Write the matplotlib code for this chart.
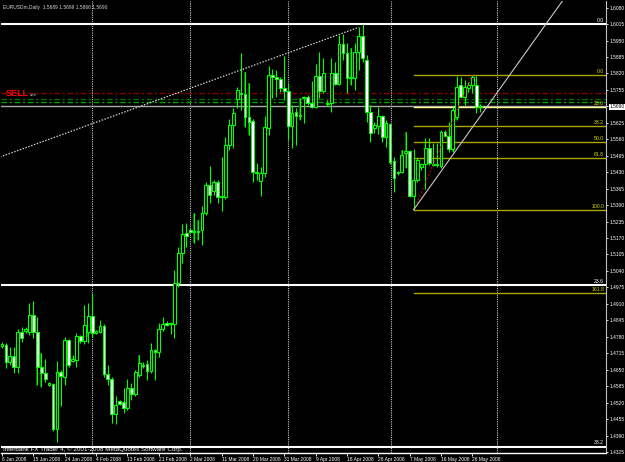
import numpy as np
import matplotlib.pyplot as plt

plt.rcParams['font.family'] = ['Liberation Sans', 'DejaVu Sans']

symbol_info = "EURUSDm,Daily  1.5689 1.5699 1.5666 1.5690"
copyright_text = "Interbank FX Trader 4, \u00a9 2001-2008 MetaQuotes Software Corp."

# daily EURUSD bars
opens = [1.4743, 1.4747, 1.4680, 1.4704, 1.4660, 1.4799, 1.4803, 1.4799, 1.4866, 1.4799,
         1.4660, 1.4637, 1.4589, 1.4593, 1.4415, 1.4641, 1.4621, 1.4767, 1.4684, 1.4688,
         1.4783, 1.4763, 1.4799, 1.4862, 1.4795, 1.4799, 1.4822, 1.4633, 1.4613, 1.4475,
         1.4526, 1.4522, 1.4498, 1.4577, 1.4554, 1.4629, 1.4664, 1.4672, 1.4645, 1.4728,
         1.4720, 1.4810, 1.4834, 1.4830, 1.4830, 1.4992, 1.5111, 1.5190, 1.5202, 1.5194,
         1.5194, 1.5202, 1.5269, 1.5379, 1.5356, 1.5391, 1.5332, 1.5332, 1.5537, 1.5616,
         1.5719, 1.5743, 1.5739, 1.5648, 1.5632, 1.5431, 1.5395, 1.5427, 1.5604, 1.5814,
         1.5806, 1.5798, 1.5762, 1.5751, 1.5612, 1.5668, 1.5656, 1.5723, 1.5727, 1.5703,
         1.5687, 1.5810, 1.5751, 1.5699, 1.5703, 1.5822, 1.5778, 1.5936, 1.5901, 1.5802,
         1.5802, 1.5905, 1.5968, 1.5873, 1.5668, 1.5604, 1.5612, 1.5652, 1.5569, 1.5620,
         1.5474, 1.5425, 1.5431, 1.5506, 1.5514, 1.5336, 1.5399, 1.5450, 1.5462, 1.5525,
         1.5462, 1.5458, 1.5454, 1.5589, 1.5573, 1.5521, 1.5648, 1.5774, 1.5727, 1.5762,
         1.5774, 1.5774, 1.5689]
highs = [1.4759, 1.4755, 1.4739, 1.4739, 1.4810, 1.4818, 1.4818, 1.4913, 1.4921, 1.4858,
         1.4716, 1.4692, 1.4601, 1.4597, 1.4684, 1.4649, 1.4779, 1.4771, 1.4708, 1.4795,
         1.4787, 1.4905, 1.4913, 1.4953, 1.4807, 1.4846, 1.4830, 1.4668, 1.4621, 1.4546,
         1.4530, 1.4577, 1.4613, 1.4597, 1.4649, 1.4708, 1.4680, 1.4688, 1.4755, 1.4732,
         1.4834, 1.4858, 1.4842, 1.4838, 1.5044, 1.5134, 1.5225, 1.5229, 1.5209, 1.5269,
         1.5241, 1.5296, 1.5391, 1.5454, 1.5399, 1.5399, 1.5490, 1.5569, 1.5640, 1.5683,
         1.5766, 1.5901, 1.5826, 1.5782, 1.5640, 1.5466, 1.5450, 1.5652, 1.5849, 1.5837,
         1.5834, 1.5806, 1.5889, 1.5782, 1.5695, 1.5683, 1.5723, 1.5731, 1.5735, 1.5790,
         1.5857, 1.5905, 1.5881, 1.5715, 1.5881, 1.5865, 1.5972, 1.5976, 1.5940, 1.5920,
         1.5940, 1.6003, 1.6015, 1.5893, 1.5695, 1.5628, 1.5687, 1.5656, 1.5636, 1.5624,
         1.5490, 1.5435, 1.5518, 1.5589, 1.5518, 1.5521, 1.5486, 1.5466, 1.5565, 1.5565,
         1.5545, 1.5545, 1.5597, 1.5597, 1.5628, 1.5687, 1.5810, 1.5806, 1.5794, 1.5786,
         1.5814, 1.5810, 1.5699]
lows = [1.4735, 1.4656, 1.4668, 1.4637, 1.4637, 1.4759, 1.4795, 1.4787, 1.4775, 1.4589,
        1.4581, 1.4601, 1.4585, 1.4408, 1.4364, 1.4506, 1.4589, 1.4660, 1.4680, 1.4660,
        1.4755, 1.4751, 1.4755, 1.4779, 1.4791, 1.4795, 1.4621, 1.4589, 1.4439, 1.4435,
        1.4510, 1.4479, 1.4490, 1.4530, 1.4546, 1.4621, 1.4656, 1.4609, 1.4637, 1.4609,
        1.4700, 1.4803, 1.4822, 1.4791, 1.4775, 1.4976, 1.5071, 1.5134, 1.5190, 1.5150,
        1.5162, 1.5142, 1.5261, 1.5308, 1.5340, 1.5308, 1.5277, 1.5324, 1.5518, 1.5525,
        1.5683, 1.5676, 1.5608, 1.5577, 1.5391, 1.5399, 1.5336, 1.5411, 1.5577, 1.5723,
        1.5727, 1.5747, 1.5715, 1.5557, 1.5525, 1.5537, 1.5636, 1.5624, 1.5695, 1.5683,
        1.5683, 1.5723, 1.5743, 1.5691, 1.5668, 1.5774, 1.5774, 1.5873, 1.5743, 1.5774,
        1.5755, 1.5834, 1.5865, 1.5628, 1.5549, 1.5585, 1.5581, 1.5549, 1.5529, 1.5462,
        1.5352, 1.5419, 1.5427, 1.5446, 1.5332, 1.5281, 1.5391, 1.5439, 1.5363, 1.5458,
        1.5454, 1.5450, 1.5446, 1.5569, 1.5510, 1.5510, 1.5636, 1.5727, 1.5695, 1.5747,
        1.5743, 1.5664, 1.5666]
closes = [1.4751, 1.4680, 1.4704, 1.4660, 1.4799, 1.4775, 1.4810, 1.4866, 1.4799, 1.4660,
          1.4637, 1.4613, 1.4597, 1.4415, 1.4641, 1.4625, 1.4767, 1.4668, 1.4692, 1.4783,
          1.4763, 1.4826, 1.4862, 1.4795, 1.4803, 1.4822, 1.4633, 1.4613, 1.4475, 1.4510,
          1.4514, 1.4498, 1.4577, 1.4554, 1.4641, 1.4676, 1.4668, 1.4645, 1.4728, 1.4720,
          1.4810, 1.4830, 1.4826, 1.4834, 1.4992, 1.5111, 1.5186, 1.5178, 1.5194, 1.5198,
          1.5198, 1.5269, 1.5379, 1.5340, 1.5391, 1.5332, 1.5336, 1.5537, 1.5616, 1.5664,
          1.5755, 1.5739, 1.5648, 1.5628, 1.5431, 1.5427, 1.5427, 1.5608, 1.5814, 1.5806,
          1.5798, 1.5762, 1.5751, 1.5612, 1.5664, 1.5652, 1.5652, 1.5727, 1.5703, 1.5687,
          1.5810, 1.5751, 1.5822, 1.5703, 1.5822, 1.5778, 1.5936, 1.5901, 1.5802, 1.5806,
          1.5905, 1.5968, 1.5881, 1.5668, 1.5585, 1.5616, 1.5652, 1.5569, 1.5624, 1.5470,
          1.5407, 1.5429, 1.5498, 1.5514, 1.5336, 1.5399, 1.5478, 1.5462, 1.5525, 1.5466,
          1.5458, 1.5462, 1.5589, 1.5573, 1.5521, 1.5676, 1.5766, 1.5727, 1.5766, 1.5774,
          1.5806, 1.5687, 1.5690]

# dark green shadow bars visible behind some candles (bar, low, high)
shadow_bars = [9, 10, 22, 35, 49, 50, 62, 63, 76, 89, 102, 103, 115, 116]
shadow_lows = [1.4589, 1.4581, 1.4779, 1.4621, 1.5150, 1.5162, 1.5608, 1.5577, 1.5636,
               1.5774, 1.5427, 1.5446, 1.5510, 1.5636]
shadow_highs = [1.4660, 1.4716, 1.4862, 1.4708, 1.5269, 1.5241, 1.5826, 1.5782, 1.5723,
                1.5920, 1.5518, 1.5589, 1.5676, 1.5766]

date_ticks = [0, 8, 16, 24, 32, 40, 48, 56, 64, 72, 80, 88, 96, 104, 112, 120]
date_labels = ["6 Jan 2008", "15 Jan 2008", "24 Jan 2008", "4 Feb 2008", "13 Feb 2008",
               "21 Feb 2008", "2 Mar 2008", "11 Mar 2008", "20 Mar 2008", "31 Mar 2008",
               "9 Apr 2008", "18 Apr 2008", "28 Apr 2008", "7 May 2008", "16 May 2008",
               "26 May 2008"]
month_separators = [23, 48, 73, 99.25, 126.25]

bid = 1.5690
# fibo 1: swing low -> swing high (May 2008)
fib1_start, fib1_end = 105, 120
fib1_low, fib1_high = 1.5281, 1.5814
fib1_levels = [0.0, 23.6, 38.2, 50.0, 61.8, 100.0, 161.8]
# fibo 2: big one drawn from the April top
fib2_high, fib2_low = 1.6015, 1.1646
fib2_levels = [0.0, 23.6, 38.2]

# trendlines (bar, price)
resist_line = [(-0.5, 1.5490), (91, 1.6002)]
support_line = [(105, 1.5281), (145, 1.6150)]

# order levels
sell_level = 1.5743
tp_levels = [1.5719, 1.5707]

fig = plt.figure(figsize=(6.25, 4.62), dpi=100, facecolor='black')
ax = fig.add_axes([1 / 625, 9 / 462, 605 / 625, 452 / 462])
ax.set_facecolor('black')

x = np.arange(len(opens))
o = np.array(opens)
h = np.array(highs)
l = np.array(lows)
c = np.array(closes)
up = c >= o

# month separators and bid line
for s in month_separators:
    ax.axvline(s, color='#c8c8c8', lw=0.8, ls=(0, (1, 1)), zorder=1)
ax.axhline(bid, color='#a8a8a8', lw=1.0, zorder=1)

# order lines
ax.axhline(sell_level, color='#8a0000', lw=1.0, dashes=(4, 2, 1.5, 2), zorder=1)
ax.axhline(tp_levels[0], color='#007000', lw=1.0, dashes=(4, 2, 1.5, 2), zorder=1)
ax.axhline(tp_levels[1], color='#00a000', lw=1.0, dashes=(4, 2, 1.5, 2), zorder=1)

# shadow bars
sl = np.array(shadow_lows)
sh = np.array(shadow_highs)
ax.bar(shadow_bars, sh - sl, bottom=sl, width=0.6, color='#007000',
       edgecolor='none', zorder=2.5)

# candles
ax.vlines(x, l, h, color='#00ff00', lw=0.8, zorder=3)
ax.bar(x[up], (c - o)[up], bottom=o[up], width=0.7, color='black',
       edgecolor='#00ff00', lw=0.8, zorder=4)
ax.bar(x[~up], (o - c)[~up], bottom=c[~up], width=0.7, color='white',
       edgecolor='#00ff00', lw=0.7, zorder=4)

# fibo 1
xr = 154.1
for lev in fib1_levels:
    p = fib1_high - (fib1_high - fib1_low) * lev / 100
    col = '#ffff90' if lev == 23.6 else '#a8a800'
    ax.plot([fib1_start, xr], [p, p], color=col, lw=1.0, zorder=2)
    ax.text(153.6, p + 0.0004, f"{lev:.1f}", color='#d8d800', fontsize=3.7,
            ha='right', va='bottom', zorder=6)
ax.plot([fib1_start, fib1_end], [fib1_low, fib1_high], color='#ff0000', lw=0.9,
        ls=(0, (1, 2)), zorder=5)

# fibo 2
for lev in fib2_levels:
    p = fib2_high - (fib2_high - fib2_low) * lev / 100
    ax.axhline(p, color='white', lw=1.5, zorder=2)
    ax.text(153.6, p + 0.0005, f"{lev:.1f}", color='white', fontsize=3.7,
            ha='right', va='bottom', zorder=6)

# trendlines
ax.plot(*zip(*resist_line), color='#d0d0d0', lw=0.9, ls=(0, (1.2, 1.2)), zorder=5)
ax.plot(*zip(*support_line), color='#c8c8c8', lw=0.8, zorder=5)

ax.set_xlim(-0.26, xr)
ax.set_ylim(1.4321, 1.6106)

# right price scale
price_ticks = np.round(1.6080 - 0.0065 * np.arange(28), 4)
ax.yaxis.tick_right()
ax.set_yticks(price_ticks)
ax.set_yticklabels([f"{p:.4f}" for p in price_ticks])
ax.tick_params(axis='y', colors='white', labelsize=3.5, length=1.5, width=0.6, pad=0.8)
for lab in ax.get_yticklabels():
    if lab.get_text() == f"{bid:.4f}":
        lab.set_color('black')
        lab.set_bbox(dict(facecolor='white', edgecolor='none', pad=0.5))

# date scale
ax.set_xticks(date_ticks)
ax.set_xticklabels(date_labels, ha='left')
ax.tick_params(axis='x', colors='white', labelsize=3.5, length=2.5, width=0.6, pad=0.3)

for side in ['top', 'left']:
    ax.spines[side].set_visible(False)
ax.spines['right'].set_color('#c0c0c0')
ax.spines['bottom'].set_color('white')
ax.spines['bottom'].set_linewidth(1.0)
ax.spines['right'].set_linewidth(0.8)

# texts
ax.text(0.004, 0.992, symbol_info, transform=ax.transAxes, color='#d8d8d8',
        fontsize=3.5, ha='left', va='top')
ax.text(0.004, 0.002, copyright_text, transform=ax.transAxes, color='white',
        fontsize=4.5, ha='left', va='bottom')
ax.text(0.9, sell_level - 0.0003, "SELL", color='#ff0000', fontsize=6.5,
        fontweight='bold', ha='left', va='center', zorder=6)
ax.text(7.2, sell_level - 0.0007, "sell", color='#b0c8c0', fontsize=3.2,
        ha='left', va='center', zorder=6)

fig.savefig('out.png', dpi=100, facecolor='black')
